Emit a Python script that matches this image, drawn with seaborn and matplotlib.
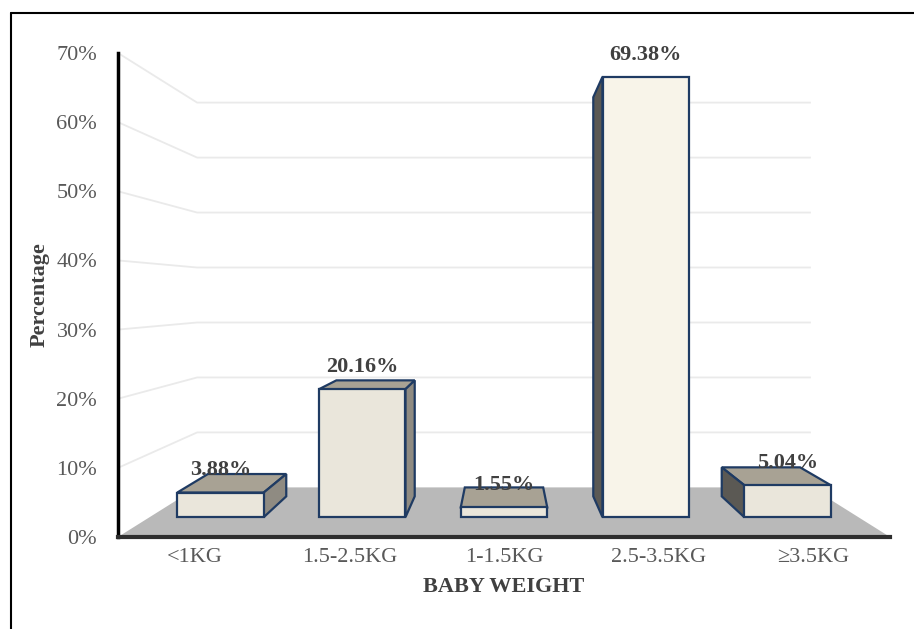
import matplotlib
matplotlib.use("Agg")
import matplotlib.pyplot as plt
from matplotlib.patches import Polygon
from matplotlib.lines import Line2D
import seaborn as sns

weight_bins = ["<1KG", "1.5-2.5KG", "1-1.5KG", "2.5-3.5KG", "\u22653.5KG"]
percent = [3.88, 20.16, 1.55, 69.38, 5.04]
y_ticks = [0, 10, 20, 30, 40, 50, 60, 70]

# fake excel 3d look: everything is scaled toward a vanishing point
vp = (2.0, 35.0)          # in data units
s_floor_back = 0.795
s_bar_front = 0.918
s_bar_back = 0.832

front_col = ["#EAE6DB", "#EAE6DB", "#EAE6DB", "#F8F4E9", "#EAE6DB"]
top_col = "#A8A294"
right_col = "#8F8B82"
left_col = "#5B5954"
edge_col = "#1F3B63"
floor_col = "#B9B9B9"
grid_col = "#EAEAEA"


def proj(x, y, s):
    return vp[0] + (x - vp[0]) * s, vp[1] + (y - vp[1]) * s


sns.set_style("white")
plt.rcParams["font.family"] = ["Liberation Serif", "DejaVu Serif"]

fig = plt.figure(figsize=(9.14, 6.29), dpi=100)
ax = fig.add_axes([118 / 914, 92 / 629, 772 / 914, 484 / 629])

sns.barplot(x=weight_bins, y=percent, hue=weight_bins, palette=front_col,
            width=0.61, legend=False, edgecolor=edge_col, linewidth=1.6,
            saturation=1, ax=ax, zorder=5)
bars = sorted(ax.patches, key=lambda p: p.get_x())

ax.set_xlim(-0.5, 4.5)
ax.set_ylim(0, 70)

# floor
x_lo, x_hi = ax.get_xlim()
floor = [proj(x_lo, 0, 1), proj(x_hi, 0, 1), proj(x_hi, 0, s_floor_back), proj(x_lo, 0, s_floor_back)]
ax.add_patch(Polygon(floor, closed=True, facecolor=floor_col, edgecolor="none", zorder=1))

# gridlines: along the left wall then across the back wall
for t in y_ticks[1:]:
    bx0, by0 = proj(x_lo, t, s_floor_back)
    bx1, by1 = proj(x_hi, t, s_floor_back)
    ax.plot([x_lo, bx0, bx1], [t, by0, by1], color=grid_col, lw=1.3, zorder=0.5,
            solid_capstyle="butt")

for bar, val in zip(bars, percent):
    x0 = bar.get_x()
    x1 = x0 + bar.get_width()
    fx0, fy0 = proj(x0, 0, s_bar_front)
    fx1, fy1 = proj(x1, val, s_bar_front)
    bar.set_xy((fx0, fy0))
    bar.set_width(fx1 - fx0)
    bar.set_height(fy1 - fy0)
    bar.set_joinstyle("miter")

    faces = []
    if val < vp[1]:
        faces.append(([proj(x0, val, s_bar_front), proj(x1, val, s_bar_front),
                       proj(x1, val, s_bar_back), proj(x0, val, s_bar_back)], top_col))
    if x1 < vp[0]:
        xs, c = x1, right_col
    elif x0 > vp[0]:
        xs, c = x0, left_col
    else:
        xs = None
    if xs is not None:
        faces.append(([proj(xs, 0, s_bar_front), proj(xs, 0, s_bar_back),
                       proj(xs, val, s_bar_back), proj(xs, val, s_bar_front)], c))
    for pts, c in faces:
        ax.add_patch(Polygon(pts, closed=True, facecolor=c, edgecolor=edge_col,
                             lw=1.6, joinstyle="miter", zorder=4))

    # excel puts the label a fixed step above the front top edge
    ax.annotate(f"{val:.2f}%", xy=((fx0 + fx1) / 2, fy1), xytext=(0, 16),
                textcoords="offset points", ha="center", va="center",
                fontsize=16, fontweight="bold", color="#404040", zorder=6)

ax.set_yticks(y_ticks)
ax.set_yticklabels([f"{t}%" for t in y_ticks])
ax.tick_params(axis="y", length=0, pad=15, labelsize=16, labelcolor="#595959")
ax.tick_params(axis="x", length=0, pad=8, labelsize=16, labelcolor="#595959")

ax.set_xlabel("BABY WEIGHT", fontsize=16, fontweight="bold", color="#404040", labelpad=7)
ax.set_ylabel("Percentage", fontsize=16, fontweight="bold", color="#404040", labelpad=5)

for side in ["top", "right"]:
    ax.spines[side].set_visible(False)
ax.spines["left"].set_color("black")
ax.spines["left"].set_linewidth(2.5)
ax.spines["bottom"].set_color("#2E2E2E")
ax.spines["bottom"].set_linewidth(3)
ax.spines["left"].set_zorder(7)
ax.spines["bottom"].set_zorder(7)

# frame of the original picture (only top and left show)
fig.add_artist(Line2D([11 / 914, 11 / 914], [0, 1 - 13 / 629], transform=fig.transFigure,
                      color="black", lw=1.5))
fig.add_artist(Line2D([11 / 914, 1], [1 - 13 / 629, 1 - 13 / 629], transform=fig.transFigure,
                      color="black", lw=1.5))

fig.savefig("out.png", dpi=100)
